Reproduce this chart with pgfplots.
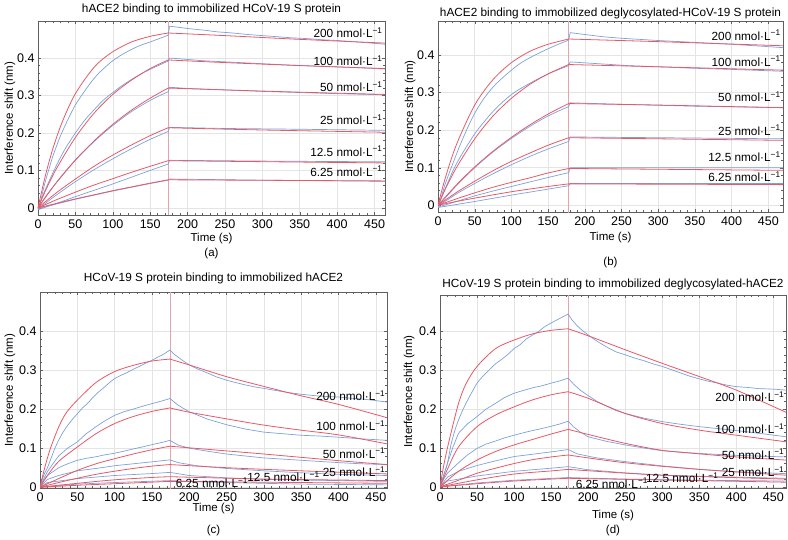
\documentclass[border=0pt]{standalone}
\usepackage{fontspec}
\setmainfont{Liberation Sans}
\usepackage{pgfplots}
\pgfplotsset{compat=1.18}
\definecolor{cbl}{RGB}{122,162,220}
\definecolor{crd}{RGB}{232,88,102}
\definecolor{cvl}{RGB}{226,165,175}
\definecolor{cgr}{RGB}{228,228,228}
\definecolor{cfr}{RGB}{95,95,95}
\newcommand{\un}{nmol·L\textsuperscript{−1}}
\pgfplotsset{
  bk/.style={
    scale only axis, axis line style={cfr, line width=0.6pt},
    xtick={0,50,...,450}, ytick={0,0.1,0.2,0.3,0.4}, yticklabels={0,0.1,0.2,0.3,0.4},
    minor x tick num=4, minor y tick num=4,
    tick align=inside, major tick length=3pt, minor tick length=2pt,
    tick style={cfr, line width=0.4pt},
    xmajorgrids, ymajorgrids, major grid style={cgr, line width=0.5pt},
    tick label style={font=\fontsize{12.5}{14}\selectfont},
    /pgf/number format/assume math mode=true,
    label style={font=\fontsize{11.5}{13}\selectfont},
    xticklabel style={yshift=-1pt},
    xlabel={Time (s)}, ylabel={Interference shift (nm)},
    clip mode=individual,
  },
  dat/.style={cbl, line width=0.7pt, line join=round, no marks},
  fit/.style={crd, line width=0.8pt, line join=round, no marks, smooth, tension=0.5},
  vln/.style={cvl, line width=0.6pt, no marks},
}
\tikzset{ttl/.style={font=\fontsize{11.8}{13}\selectfont, anchor=center}}
\begin{document}
\begin{tikzpicture}
\useasboundingbox (0,0) rectangle (788pt,-539pt);
%%%%%%%%%%%%%%%%%%%%%%%% (a)
\begin{axis}[bk, at={(38pt,-21pt)}, anchor=north west, width=347pt, height=194pt,
  xmin=0, xmax=464, ymin=-0.019, ymax=0.499,
  xlabel style={at={(axis description cs:0.5,-0.119)}, anchor=center},
  ylabel style={at={(axis description cs:-0.081,0.5)}, anchor=center}]
\addplot[vln] coordinates {(174,-0.02)(174,0.5)};
\addplot[dat,smooth] coordinates {(0,-0.004)(3,0.012)(6,0.04)(10,0.072)(15,0.106)(20,0.139)(25,0.166)(30,0.192)(40,0.236)(50,0.275)(60,0.305)(70,0.333)(80,0.357)(90,0.376)(100,0.393)(112,0.409)(125,0.423)(137,0.434)(150,0.443)(162,0.452)(174,0.461)};
\addplot[dat] coordinates {(174,0.461)(176,0.485)(185,0.483)(200,0.479)(220,0.475)(240,0.47)(260,0.467)(280,0.463)(300,0.46)(320,0.457)(340,0.454)(360,0.452)(380,0.449)(400,0.447)(420,0.444)(440,0.441)(464,0.437)};
\addplot[dat,smooth] coordinates {(0,-0.003)(5,0.025)(10,0.05)(25,0.115)(37,0.16)(50,0.2)(62,0.233)(75,0.262)(87,0.287)(100,0.308)(112,0.326)(125,0.343)(137,0.357)(150,0.37)(162,0.381)(174,0.392)};
\addplot[dat] coordinates {(174,0.392)(176,0.4)(190,0.398)(220,0.393)(260,0.389)(300,0.385)(340,0.381)(380,0.378)(420,0.375)(464,0.371)};
\addplot[dat,smooth] coordinates {(0,-0.002)(10,0.03)(25,0.068)(50,0.127)(75,0.177)(100,0.22)(125,0.257)(150,0.287)(165,0.302)(174,0.31)};
\addplot[dat] coordinates {(174,0.31)(176,0.322)(200,0.319)(250,0.315)(300,0.311)(350,0.308)(400,0.305)(464,0.302)};
\addplot[dat,smooth] coordinates {(0,-0.003)(25,0.035)(50,0.07)(75,0.102)(100,0.131)(125,0.158)(150,0.183)(174,0.204)};
\addplot[dat] coordinates {(174,0.204)(176,0.215)(250,0.212)(350,0.21)(464,0.207)};
\addplot[dat,smooth] coordinates {(0,-0.005)(25,0.012)(50,0.03)(75,0.047)(100,0.064)(125,0.082)(150,0.1)(174,0.117)};
\addplot[dat] coordinates {(174,0.117)(176,0.127)(300,0.125)(464,0.123)};
\addplot[dat] coordinates {(0,-0.002)(50,0.023)(100,0.045)(150,0.065)(174,0.074)(176,0.077)(300,0.074)(464,0.071)};
\addplot[fit] coordinates {(0,0)(10,0.087)(20,0.159)(30,0.217)(40,0.265)(50,0.305)(65,0.35)(80,0.386)(100,0.417)(125,0.443)(150,0.458)(174,0.467)};
\addplot[fit] coordinates {(174,0.467)(250,0.46)(350,0.45)(464,0.44)};
\addplot[fit] coordinates {(0,0)(10,0.046)(25,0.106)(50,0.188)(75,0.253)(100,0.303)(125,0.341)(150,0.372)(174,0.395)};
\addplot[fit] coordinates {(174,0.395)(250,0.388)(350,0.38)(464,0.372)};
\addplot[fit] coordinates {(0,0)(25,0.069)(50,0.128)(75,0.179)(100,0.223)(125,0.261)(150,0.293)(174,0.32)};
\addplot[fit] coordinates {(174,0.32)(250,0.315)(350,0.309)(464,0.303)};
\addplot[fit] coordinates {(0,0)(25,0.041)(50,0.077)(75,0.111)(100,0.141)(125,0.168)(150,0.193)(174,0.214)};
\addplot[fit] coordinates {(174,0.214)(300,0.208)(464,0.202)};
\addplot[fit] coordinates {(0,0)(25,0.022)(50,0.042)(75,0.061)(100,0.078)(125,0.095)(150,0.111)(174,0.126)};
\addplot[fit] coordinates {(174,0.126)(464,0.12)};
\addplot[fit] coordinates {(0,0)(25,0.012)(50,0.024)(75,0.035)(100,0.046)(125,0.056)(150,0.066)(174,0.075)};
\addplot[fit] coordinates {(174,0.075)(464,0.072)};
\begin{scope}[every node/.style={anchor=east, inner sep=0pt, font=\fontsize{11.8}{13}\selectfont}]
\node at (axis cs:461,0.467) {200 \un};
\node at (axis cs:461,0.393) {100 \un};
\node at (axis cs:461,0.323) {50 \un};
\node at (axis cs:461,0.236) {25 \un};
\node at (axis cs:461,0.151) {12.5 \un};
\node at (axis cs:461,0.098) {6.25 \un};
\end{scope}
\node[ttl] at (axis description cs:0.5,1.057) {hACE2 binding to immobilized HCoV-19 S protein};
\node[font=\fontsize{11.5}{13}\selectfont] at (axis description cs:0.5,-0.2) {(a)};
\end{axis}
%%%%%%%%%%%%%%%%%%%%%%%% (b)
\begin{axis}[bk, at={(438pt,-21pt)}, anchor=north west, width=345pt, height=191pt,
  xmin=0, xmax=470, ymin=-0.018, ymax=0.491,
  xlabel style={at={(axis description cs:0.5,-0.131)}, anchor=center},
  ylabel style={at={(axis description cs:-0.081,0.5)}, anchor=center}]
\addplot[vln] coordinates {(178,-0.02)(178,0.5)};
\addplot[dat,smooth] coordinates {(0,-0.005)(5,0.025)(10,0.058)(20,0.11)(30,0.16)(40,0.205)(50,0.245)(62,0.283)(75,0.315)(87,0.338)(100,0.36)(112,0.378)(125,0.393)(137,0.405)(150,0.417)(165,0.43)(178,0.44)};
\addplot[dat] coordinates {(178,0.44)(180,0.46)(200,0.455)(225,0.449)(250,0.445)(300,0.439)(350,0.434)(400,0.429)(440,0.424)(470,0.42)};
\addplot[dat,smooth] coordinates {(0,-0.003)(10,0.045)(25,0.11)(50,0.19)(75,0.25)(100,0.295)(125,0.325)(150,0.35)(165,0.362)(178,0.372)};
\addplot[dat] coordinates {(178,0.372)(180,0.382)(220,0.377)(260,0.372)(300,0.369)(350,0.365)(400,0.362)(470,0.357)};
\addplot[dat,smooth] coordinates {(0,-0.003)(25,0.052)(50,0.1)(75,0.142)(100,0.178)(125,0.21)(150,0.238)(178,0.263)};
\addplot[dat] coordinates {(178,0.263)(180,0.273)(250,0.269)(350,0.264)(470,0.26)};
\addplot[dat,smooth] coordinates {(0,-0.003)(25,0.03)(50,0.058)(75,0.084)(100,0.108)(125,0.13)(150,0.15)(178,0.17)};
\addplot[dat] coordinates {(178,0.17)(180,0.182)(300,0.18)(470,0.177)};
\addplot[dat] coordinates {(0,-0.005)(25,0.01)(50,0.025)(75,0.038)(100,0.05)(125,0.062)(150,0.074)(178,0.087)(180,0.1)(300,0.1)(470,0.1)};
\addplot[dat] coordinates {(0,-0.006)(50,0.01)(100,0.027)(150,0.043)(178,0.052)(180,0.058)(470,0.058)};
\addplot[fit] coordinates {(0,0)(10,0.073)(25,0.161)(50,0.267)(75,0.335)(100,0.38)(125,0.41)(150,0.429)(178,0.443)};
\addplot[fit] coordinates {(178,0.443)(300,0.436)(470,0.425)};
\addplot[fit] coordinates {(0,0)(10,0.043)(25,0.1)(50,0.177)(75,0.238)(100,0.285)(125,0.322)(150,0.35)(178,0.375)};
\addplot[fit] coordinates {(178,0.375)(300,0.369)(470,0.36)};
\addplot[fit] coordinates {(0,0)(25,0.054)(50,0.102)(75,0.144)(100,0.181)(125,0.214)(150,0.243)(178,0.271)};
\addplot[fit] coordinates {(178,0.271)(300,0.267)(470,0.26)};
\addplot[fit] coordinates {(0,0)(25,0.034)(50,0.064)(75,0.092)(100,0.117)(125,0.139)(150,0.16)(178,0.18)};
\addplot[fit] coordinates {(178,0.18)(470,0.173)};
\addplot[fit] coordinates {(0,0)(25,0.017)(50,0.033)(75,0.048)(100,0.061)(125,0.073)(150,0.086)(178,0.098)};
\addplot[fit] coordinates {(178,0.098)(470,0.093)};
\addplot[fit] coordinates {(0,0)(25,0.01)(50,0.019)(100,0.036)(150,0.05)(178,0.057)};
\addplot[fit] coordinates {(178,0.057)(470,0.055)};
\begin{scope}[every node/.style={anchor=east, inner sep=0pt, font=\fontsize{11.8}{13}\selectfont}]
\node at (axis cs:467,0.453) {200 \un};
\node at (axis cs:467,0.384) {100 \un};
\node at (axis cs:467,0.289) {50 \un};
\node at (axis cs:467,0.2) {25 \un};
\node at (axis cs:467,0.129) {12.5 \un};
\node at (axis cs:467,0.076) {6.25 \un};
\end{scope}
\node[ttl] at (axis description cs:0.5,1.04) {hACE2 binding to immobilized deglycosylated-HCoV-19 S protein};
\node[font=\fontsize{11.5}{13}\selectfont] at (axis description cs:0.5,-0.262) {(b)};
\end{axis}
%%%%%%%%%%%%%%%%%%%%%%%% (c)
\begin{axis}[bk, at={(40pt,-292pt)}, anchor=north west, width=347pt, height=196pt,
  xmin=0, xmax=465, ymin=-0.002, ymax=0.4997,
  xlabel style={at={(axis description cs:0.5,-0.105)}, anchor=center},
  ylabel style={at={(axis description cs:-0.0865,0.5)}, anchor=center}]
\addplot[vln] coordinates {(174,-0.02)(174,0.5)};
\addplot[dat,smooth,tension=0.3] coordinates {(0,0)(3,0.02)(6,0.035)(10,0.05)(15,0.075)(20,0.1)(25,0.12)(30,0.138)(37,0.158)(44,0.175)(50,0.188)(57,0.203)(64,0.215)(71,0.23)(78,0.243)(85,0.254)(92,0.266)(100,0.278)(108,0.286)(116,0.293)(125,0.302)(133,0.309)(141,0.317)(150,0.325)(158,0.333)(166,0.341)(174,0.351)};
\addplot[dat] coordinates {(174,0.351)(180,0.34)(190,0.326)(200,0.313)(212,0.302)(225,0.292)(237,0.282)(250,0.274)(262,0.268)(275,0.262)(287,0.257)(300,0.253)(315,0.248)(330,0.243)(350,0.238)(370,0.234)(385,0.232)(400,0.231)(415,0.228)(430,0.226)(445,0.223)(465,0.218)};
\addplot[dat] coordinates {(0,0)(5,0.022)(10,0.04)(18,0.062)(25,0.08)(37,0.1)(50,0.116)(62,0.137)(75,0.155)(87,0.17)(100,0.184)(112,0.193)(125,0.2)(137,0.207)(150,0.214)(162,0.22)(174,0.227)(185,0.21)(200,0.193)(225,0.174)(250,0.16)(275,0.149)(300,0.141)(325,0.137)(350,0.133)(375,0.131)(400,0.128)(430,0.124)(465,0.12)};
\addplot[dat] coordinates {(0,0)(5,0.018)(10,0.03)(25,0.05)(37,0.06)(50,0.069)(62,0.074)(75,0.078)(87,0.083)(100,0.087)(112,0.092)(125,0.098)(137,0.103)(150,0.109)(162,0.114)(174,0.12)(185,0.108)(200,0.1)(225,0.092)(250,0.085)(275,0.08)(300,0.075)(350,0.069)(400,0.063)(430,0.06)(465,0.058)};
\addplot[dat] coordinates {(0,0)(10,0.02)(25,0.03)(50,0.042)(75,0.048)(100,0.055)(125,0.06)(150,0.065)(174,0.07)(185,0.063)(210,0.055)(250,0.048)(300,0.042)(350,0.037)(400,0.033)(465,0.03)};
\addplot[dat] coordinates {(0,0)(10,0.012)(50,0.022)(100,0.03)(150,0.035)(174,0.038)(200,0.03)(250,0.024)(300,0.02)(400,0.017)(465,0.015)};
\addplot[dat] coordinates {(0,0)(50,0.008)(100,0.012)(174,0.017)(250,0.012)(350,0.008)(465,0.006)};
\addplot[fit] coordinates {(0,0)(5,0.04)(10,0.075)(15,0.105)(25,0.154)(35,0.19)(50,0.223)(75,0.268)(100,0.296)(125,0.312)(150,0.323)(174,0.328)};
\addplot[fit] coordinates {(174,0.328)(200,0.313)(250,0.283)(300,0.258)(350,0.234)(400,0.212)(465,0.178)};
\addplot[fit] coordinates {(0,0)(10,0.03)(25,0.066)(50,0.103)(75,0.137)(100,0.163)(125,0.181)(150,0.194)(174,0.203)};
\addplot[fit] coordinates {(174,0.203)(200,0.192)(250,0.175)(300,0.159)(350,0.146)(400,0.134)(465,0.111)};
\addplot[fit] coordinates {(0,0)(25,0.022)(50,0.043)(75,0.06)(100,0.073)(125,0.085)(150,0.096)(174,0.105)};
\addplot[fit] coordinates {(174,0.105)(250,0.093)(300,0.085)(400,0.068)(465,0.058)};
\addplot[fit] coordinates {(0,0)(25,0.012)(50,0.023)(75,0.033)(100,0.041)(125,0.048)(150,0.054)(174,0.058)};
\addplot[fit] coordinates {(174,0.058)(250,0.05)(350,0.042)(465,0.034)};
\addplot[fit] coordinates {(0,0)(50,0.01)(100,0.019)(150,0.025)(174,0.027)};
\addplot[fit] coordinates {(174,0.027)(300,0.021)(465,0.017)};
\addplot[fit] coordinates {(0,0)(50,0.005)(100,0.009)(150,0.013)(174,0.015)};
\addplot[fit] coordinates {(174,0.015)(465,0.01)};
\begin{scope}[every node/.style={anchor=east, inner sep=0pt, font=\fontsize{11.8}{13}\selectfont}]
\node at (axis cs:463,0.235) {200 \un};
\node at (axis cs:463,0.158) {100 \un};
\node at (axis cs:463,0.087) {50 \un};
\node at (axis cs:463,0.040) {25 \un};
\node at (axis cs:375,0.027) {12.5 \un};
\node at (axis cs:279,0.012) {6.25 \un};
\end{scope}
\node[ttl] at (axis description cs:0.5,1.071) {HCoV-19 S protein binding to immobilized hACE2};
\node[font=\fontsize{11.5}{13}\selectfont] at (axis description cs:0.5,-0.215) {(c)};
\end{axis}
%%%%%%%%%%%%%%%%%%%%%%%% (d)
\begin{axis}[bk, at={(440pt,-295pt)}, anchor=north west, width=346pt, height=193pt,
  xmin=0, xmax=467, ymin=-0.003, ymax=0.494,
  xlabel style={at={(axis description cs:0.5,-0.14)}, anchor=center},
  ylabel style={at={(axis description cs:-0.089,0.5)}, anchor=center}]
\addplot[vln] coordinates {(173,-0.02)(173,0.5)};
\addplot[dat,smooth,tension=0.3] coordinates {(0,0)(3,0.018)(6,0.036)(10,0.06)(15,0.11)(20,0.145)(25,0.172)(30,0.195)(35,0.215)(42,0.24)(50,0.267)(58,0.285)(66,0.3)(75,0.317)(83,0.328)(91,0.34)(100,0.356)(108,0.366)(116,0.38)(125,0.391)(133,0.4)(141,0.412)(150,0.422)(158,0.43)(166,0.438)(173,0.445)};
\addplot[dat] coordinates {(173,0.445)(178,0.43)(185,0.415)(192,0.403)(200,0.391)(212,0.375)(225,0.36)(237,0.348)(250,0.34)(262,0.332)(275,0.325)(287,0.317)(300,0.31)(312,0.302)(325,0.293)(337,0.285)(350,0.278)(362,0.272)(375,0.267)(387,0.262)(400,0.258)(415,0.256)(430,0.253)(445,0.252)(455,0.251)(467,0.249)};
\addplot[dat] coordinates {(0,0)(5,0.03)(10,0.06)(18,0.105)(25,0.138)(37,0.162)(50,0.181)(62,0.2)(75,0.215)(87,0.23)(100,0.241)(112,0.248)(125,0.255)(137,0.26)(150,0.267)(162,0.273)(173,0.28)(180,0.265)(190,0.248)(200,0.235)(212,0.22)(225,0.208)(237,0.197)(250,0.189)(275,0.177)(300,0.168)(325,0.161)(350,0.155)(375,0.15)(400,0.145)(430,0.138)(467,0.129)};
\addplot[dat] coordinates {(0,0)(5,0.02)(10,0.035)(25,0.062)(37,0.082)(50,0.099)(62,0.11)(75,0.118)(87,0.126)(100,0.133)(112,0.139)(125,0.145)(137,0.15)(150,0.156)(162,0.162)(173,0.169)(180,0.155)(190,0.14)(200,0.129)(225,0.117)(250,0.108)(275,0.1)(300,0.093)(350,0.086)(400,0.081)(467,0.077)};
\addplot[dat] coordinates {(0,0)(10,0.025)(25,0.04)(50,0.055)(75,0.067)(100,0.078)(125,0.084)(150,0.09)(173,0.096)(185,0.085)(210,0.075)(250,0.065)(300,0.054)(350,0.045)(400,0.039)(467,0.034)};
\addplot[dat] coordinates {(0,0)(10,0.015)(50,0.028)(100,0.04)(150,0.048)(173,0.052)(200,0.044)(250,0.036)(300,0.03)(400,0.025)(467,0.022)};
\addplot[dat] coordinates {(0,0)(50,0.01)(100,0.017)(173,0.024)(250,0.02)(350,0.017)(467,0.015)};
\addplot[fit] coordinates {(0,0)(5,0.055)(10,0.1)(15,0.14)(25,0.215)(35,0.265)(50,0.31)(75,0.356)(100,0.378)(125,0.394)(150,0.403)(173,0.407)};
\addplot[fit] coordinates {(173,0.407)(200,0.389)(250,0.353)(300,0.318)(350,0.284)(400,0.249)(467,0.192)};
\addplot[fit] coordinates {(0,0)(10,0.045)(25,0.103)(50,0.155)(75,0.185)(100,0.206)(125,0.224)(150,0.237)(173,0.245)};
\addplot[fit] coordinates {(173,0.245)(200,0.228)(250,0.189)(300,0.163)(350,0.146)(400,0.133)(467,0.116)};
\addplot[fit] coordinates {(0,0)(25,0.04)(50,0.069)(75,0.091)(100,0.108)(125,0.122)(150,0.136)(173,0.148)};
\addplot[fit] coordinates {(173,0.148)(200,0.135)(250,0.112)(300,0.094)(350,0.085)(400,0.077)(467,0.069)};
\addplot[fit] coordinates {(0,0)(25,0.017)(50,0.035)(75,0.048)(100,0.06)(125,0.07)(150,0.077)(173,0.082)};
\addplot[fit] coordinates {(173,0.082)(250,0.062)(350,0.045)(467,0.03)};
\addplot[fit] coordinates {(0,0)(50,0.018)(100,0.033)(150,0.041)(173,0.045)};
\addplot[fit] coordinates {(173,0.045)(300,0.03)(467,0.02)};
\addplot[fit] coordinates {(0,0)(50,0.008)(100,0.015)(150,0.02)(173,0.022)};
\addplot[fit] coordinates {(173,0.022)(467,0.012)};
\begin{scope}[every node/.style={anchor=east, inner sep=0pt, font=\fontsize{11.8}{13}\selectfont}]
\node at (axis cs:465,0.232) {200 \un};
\node at (axis cs:465,0.150) {100 \un};
\node at (axis cs:465,0.084) {50 \un};
\node at (axis cs:465,0.039) {25 \un};
\node at (axis cs:376,0.024) {12.5 \un};
\node at (axis cs:281,0.009) {6.25 \un};
\end{scope}
\node[ttl] at (axis description cs:0.5,1.057) {HCoV-19 S protein binding to immobilized deglycosylated-hACE2};
\node[font=\fontsize{11.5}{13}\selectfont] at (axis description cs:0.5,-0.218) {(d)};
\end{axis}
\end{tikzpicture}
\end{document}
